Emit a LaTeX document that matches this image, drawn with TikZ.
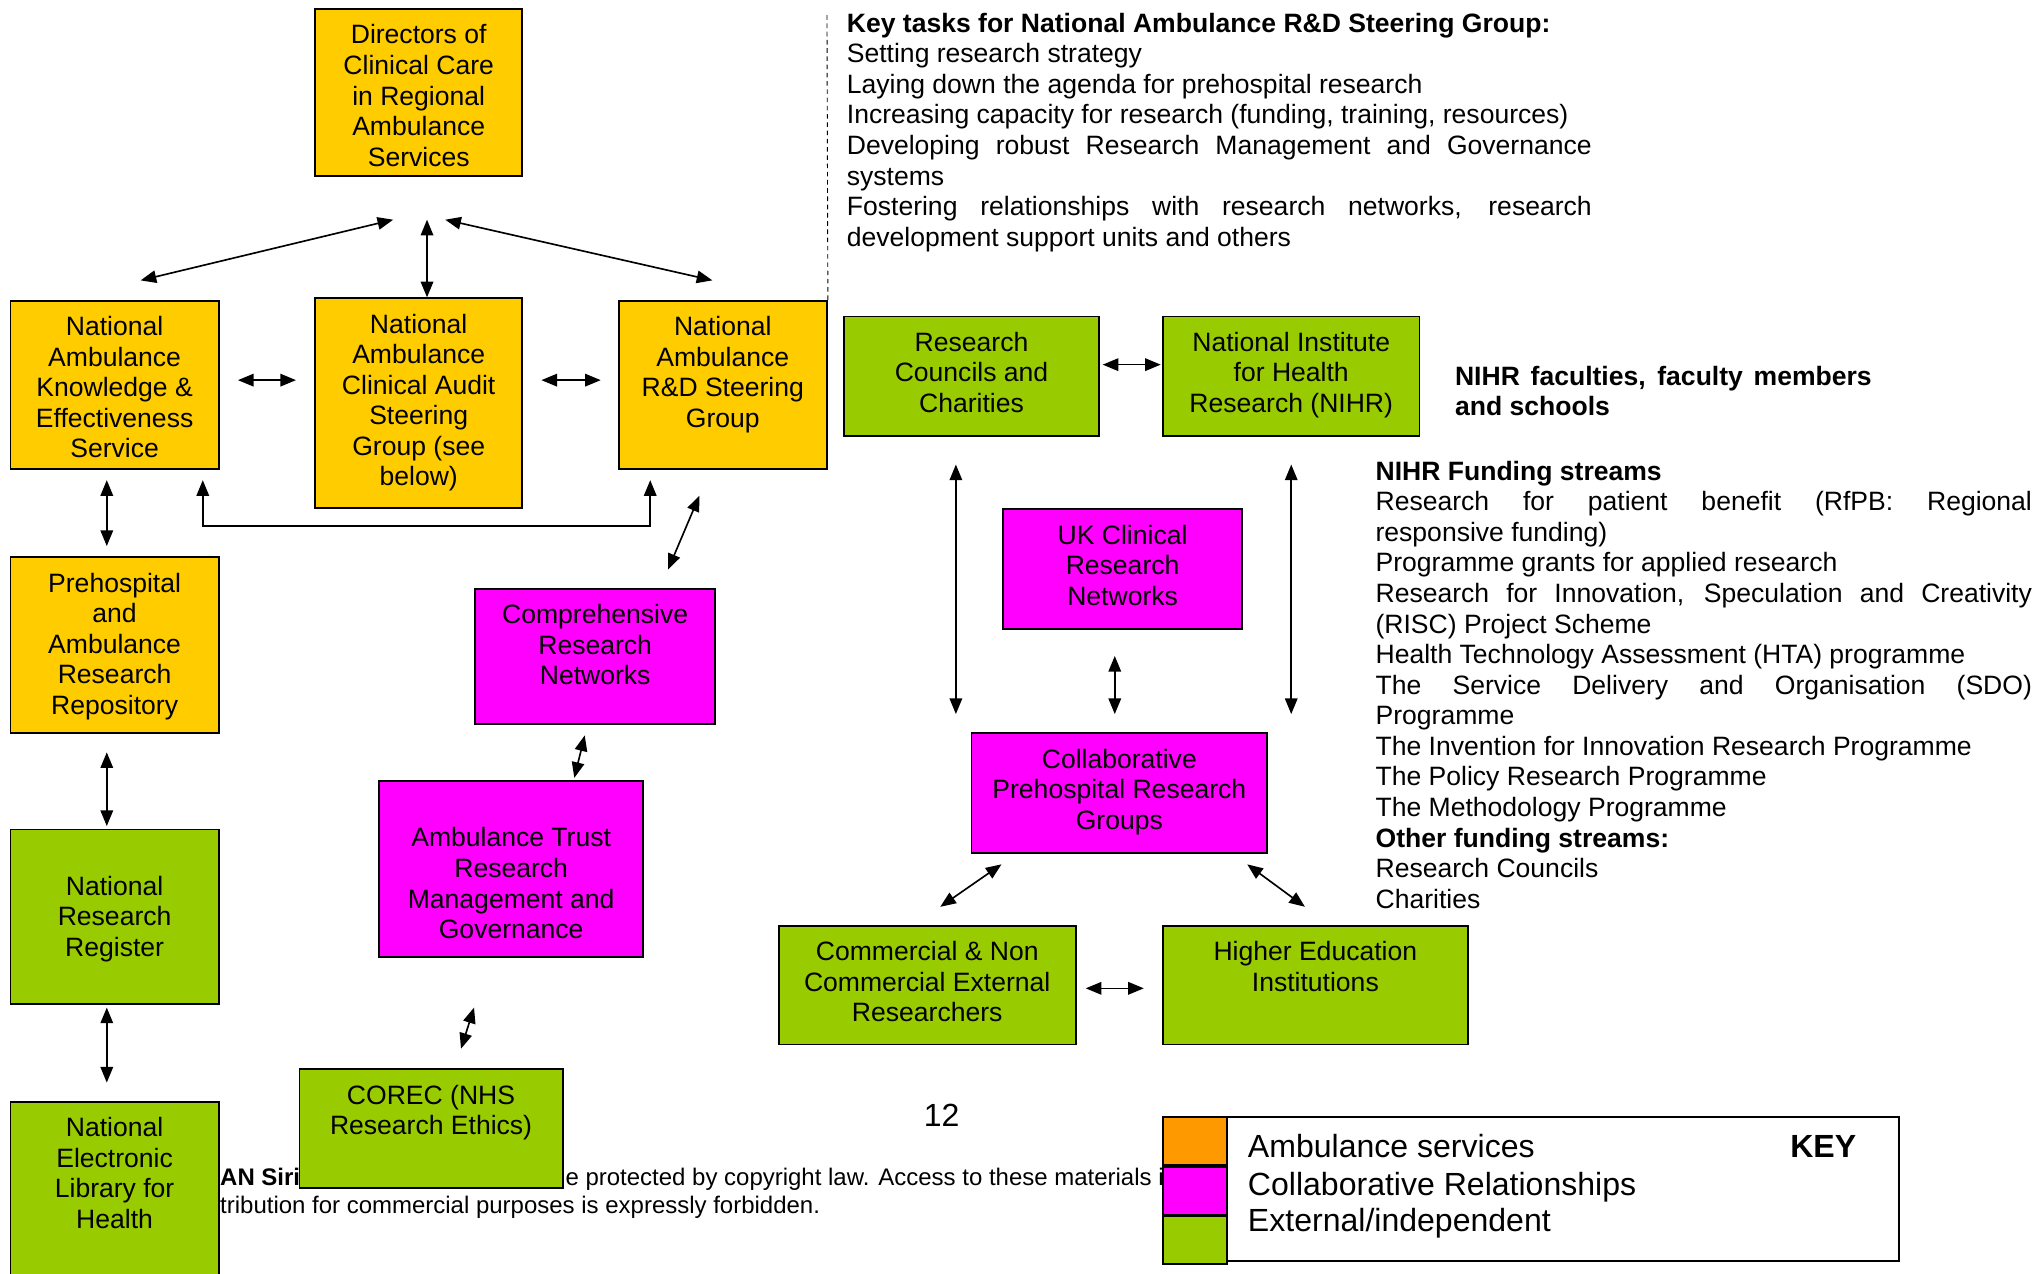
\documentclass[tikz,border=0pt]{standalone}
\usepackage{fontspec}
\setmainfont{Liberation Sans}
\usepackage{xcolor}
\usetikzlibrary{arrows.meta,positioning}
\definecolor{ambufill}{HTML}{FFCC00}
\definecolor{collabfill}{HTML}{FF00FF}
\definecolor{extfill}{HTML}{99CC00}
\definecolor{keyorange}{HTML}{FF9900}
\newcommand{\bodysize}{\fontsize{14.5pt}{16.7pt}\selectfont}
\newcommand{\keysize}{\fontsize{17.5pt}{20.6pt}\selectfont}
\newcommand{\inbox}[4][0.3cm]{\parbox[c][#2][t]{#3}{\centering\vspace*{#1}#4}}
\hyphenpenalty=10000
\exhyphenpenalty=10000
\tolerance=10000

\begin{document}
\begin{tikzpicture}[
      every node/.style={font=\bodysize},
      arr/.style={{Triangle[length=3mm,width=2.4mm]}-{Triangle[length=3mm,width=2.4mm]}, line width=0.9pt},
      orgbox/.style={draw=black, line width=1pt, inner sep=0pt},
      ambu/.style={orgbox, fill=ambufill},
      collab/.style={orgbox, fill=collabfill},
      extern/.style={orgbox, fill=extfill},
      txtblock/.style={inner sep=0pt, anchor=north west, align=justify},
      swatch/.style={draw=black, line width=1pt, inner sep=0pt,
                     minimum width=1.225cm, minimum height=0.9167cm},
      keytxt/.style={font=\keysize, inner sep=0pt, anchor=base west},
      foot/.style={font=\fontsize{13.1pt}{15.6pt}\selectfont, inner sep=0pt, anchor=base west},
      guide/.style={dash pattern=on 2.5pt off 2pt, line width=0.5pt}
  ]

    \path[use as bounding box, fill=white] (0,0) rectangle (39.2,-24.45);

    % ---- Page footer (behind the boxes) ----
    \node[foot] (foota) at (4.22,-22.75) {\textbf{AN Siri}};
    \node[foot] (footb) at (10.85,-22.75) {e protected by copyright law. Access to these materials i};
    \node[foot] (footc) at (4.22,-23.3) {tribution for commercial purposes is expressly forbidden.};
    \node[font=\keysize, anchor=base] (pagenum) at (18.075,-21.62) {12};

    % ---- Ambulance services ----
    \node[ambu] (dir) at (8.0375,-1.775)
          {\inbox{3.2cm}{3.975cm}{Directors of\\Clinical Care\\in Regional\\Ambulance\\Services}};
    \node[ambu] (nakes) at (2.2,-7.3875)
          {\inbox{3.225cm}{4cm}{National\\Ambulance\\Knowledge \&\\Effectiveness\\Service}};
    \node[ambu] (nacasg) at (8.0375,-7.7375)
          {\inbox{4.025cm}{3.975cm}{National\\Ambulance\\Clinical Audit\\Steering\\Group (see\\below)}};
    \node[ambu] (nardsg) at (13.875,-7.3875)
          {\inbox{3.225cm}{4cm}{National\\Ambulance\\R\&D Steering\\Group}};
    \node[ambu] (prep) at (2.2,-12.3875)
          {\inbox{3.375cm}{4cm}{Prehospital\\and\\Ambulance\\Research\\Repository}};

    % ---- Collaborative relationships ----
    \node[collab] (crn) at (11.425,-12.6)
          {\inbox{2.6cm}{4.6cm}{Comprehensive\\Research\\Networks}};
    \node[collab] (atrmg) at (9.8125,-16.6875)
          {\inbox[0.8875cm]{3.375cm}{5.075cm}{Ambulance Trust\\Research\\Management and\\Governance}};
    \node[collab] (ukcrn) at (21.55,-10.925)
          {\inbox{2.3cm}{4.6cm}{UK Clinical\\Research\\Networks}};
    \node[collab] (cprg) at (21.4875,-15.225)
          {\inbox{2.3cm}{5.675cm}{Collaborative\\Prehospital Research\\Groups}};

    % ---- External / independent ----
    \node[extern] (nrr) at (2.2,-17.6)
          {\inbox[0.8875cm]{3.35cm}{4cm}{National\\Research\\Register}};
    \node[extern] (nelh) at (2.2,-22.875)
          {\inbox{3.45cm}{4cm}{National\\Electronic\\Library for\\Health}};
    \node[extern] (corec) at (8.275,-21.6625)
          {\inbox{2.275cm}{5.05cm}{COREC (NHS\\Research Ethics)}};
    \node[extern] (rcc) at (18.65,-7.225)
          {\inbox{2.3cm}{4.9cm}{Research\\Councils and\\Charities}};
    \node[extern] (nihr) at (24.7875,-7.225)
          {\inbox{2.3cm}{4.925cm}{National Institute\\for Health\\Research (NIHR)}};
    \node[extern] (comm) at (17.8,-18.9125)
          {\inbox{2.275cm}{5.7cm}{Commercial \& Non\\Commercial External\\Researchers}};
    \node[extern] (hei) at (25.25,-18.9125)
          {\inbox{2.275cm}{5.85cm}{Higher Education\\Institutions}};

    % ---- Arrows to the directors ----
    \draw[arr] ([xshift=0.5cm,yshift=0.375cm]nakes.north) -- ([xshift=-0.49cm,yshift=-0.825cm]dir.south);
    \draw[arr] ([xshift=0.16cm]nacasg.north) -- ([xshift=0.16cm,yshift=-0.825cm]dir.south);
    \draw[arr] ([xshift=-0.2cm,yshift=0.375cm]nardsg.north) -- ([xshift=0.51cm,yshift=-0.825cm]dir.south);

    % ---- Links between the national groups ----
    \draw[arr, shorten <=0.35cm, shorten >=0.35cm]
          ([yshift=0.09cm]nakes.east) -- ([yshift=0.09cm]nakes.east -| nacasg.west);
    \draw[arr, shorten <=0.35cm, shorten >=0.325cm]
          ([yshift=0.09cm]nardsg.west -| nacasg.east) -- ([yshift=0.09cm]nardsg.west);
    \draw[arr] ([xshift=-0.325cm,yshift=-0.2cm]nakes.south east) -- ++(0,-0.875)
          -| ([xshift=0.625cm,yshift=-0.2cm]nardsg.south west);

    % ---- Left column ----
    \draw[arr, shorten <=0.2cm, shorten >=0.2cm] ([xshift=-0.15cm]nakes.south) -- ([xshift=-0.15cm]prep.north);
    \draw[arr, shorten <=0.35cm, shorten >=0.05cm] ([xshift=-0.15cm]prep.south) -- ([xshift=-0.15cm]nrr.north);
    \draw[arr, shorten <=0.05cm, shorten >=0.35cm] ([xshift=-0.15cm]nrr.south) -- ([xshift=-0.15cm]nelh.north);

    % ---- Middle chain ----
    \draw[arr] ([xshift=-0.45cm,yshift=-0.5cm]nardsg.south) -- ([xshift=1.4cm,yshift=0.35cm]crn.north);
    \draw[arr] ([xshift=-0.2cm,yshift=-0.2cm]crn.south) -- ([xshift=1.2125cm,yshift=0.05cm]atrmg.north);
    \draw[arr] ([xshift=-0.7125cm,yshift=-0.95cm]atrmg.south) -- ([xshift=0.575cm,yshift=0.375cm]corec.north);

    % ---- Right network ----
    \draw[arr, shorten <=0.05cm, shorten >=0.025cm] ([yshift=0.225cm]rcc.east) -- ([yshift=0.225cm]nihr.west);
    \draw[arr, shorten <=0.525cm, shorten >=0.35cm] ([xshift=-0.3cm]rcc.south) -- ([xshift=-0.3cm]rcc.south |- cprg.north);
    \draw[arr, shorten <=0.525cm, shorten >=0.35cm] (nihr.south) -- (nihr.south |- cprg.north);
    \draw[arr, shorten <=0.5cm, shorten >=0.35cm] ([xshift=-0.15cm]ukcrn.south) -- ([xshift=-0.15cm]ukcrn.south |- cprg.north);
    \draw[arr] ([xshift=-2.2625cm,yshift=-0.2cm]cprg.south) -- ([xshift=0.25cm,yshift=0.35cm]comm.north);
    \draw[arr] ([xshift=-0.4cm,yshift=-0.2cm]cprg.south east) -- ([xshift=-0.2cm,yshift=0.35cm]hei.north);
    \draw[arr, shorten <=0.175cm, shorten >=0.35cm] ([yshift=-0.06cm]comm.east) -- ([yshift=-0.06cm]hei.west);

    % ---- Dashed divider ----
    \coordinate (guidetop) at (15.875,-0.25);
    \draw[guide] (nardsg.north east) -- (guidetop);

    % ---- Text blocks ----
    \node[txtblock, text width=14.3cm] (tasks) at (16.25,-0.2425) {%
      \textbf{Key tasks for National Ambulance R\&D Steering Group:}\par
      Setting research strategy\par
      Laying down the agenda for prehospital research\par
      Increasing capacity for research (funding, training, resources)\par
      Developing robust Research Management and Governance systems\par
      Fostering relationships with research networks, research development support units and others};

    \node[txtblock, text width=8cm, font=\bodysize\bfseries] (faculties) at (27.925,-7.0175)
          {NIHR faculties, faculty members and schools};

    \node[txtblock, text width=12.6cm] (streams) at (26.4,-8.8425) {%
      \textbf{NIHR Funding streams}\par
      Research for patient benefit (RfPB: Regional\linebreak responsive funding)\par
      Programme grants for applied research\par
      Research for Innovation, Speculation and Creativity (RISC) Project Scheme\par
      Health Technology Assessment (HTA) programme\par
      The Service Delivery and Organisation (SDO) Programme\par
      The Invention for Innovation Research Programme\par
      The Policy Research Programme\par
      The Methodology Programme\par
      \textbf{Other funding streams:}\par
      Research Councils\par
      Charities};

    % ---- Key ----
    \node[draw=black, line width=1pt, fill=white, inner sep=0pt,
          minimum width=14.125cm, minimum height=2.75cm] (keybox) at (29.3875,-22.825) {};
    \node[swatch, fill=keyorange, anchor=north west] (swamb) at (keybox.north west) {};
    \node[swatch, fill=collabfill, below=0pt of swamb] (swcol) {};
    \node[swatch, fill=extfill, below=0pt of swcol] (swext) {};
    \node[keytxt] (keyamb) at (23.95,-22.22) {Ambulance services};
    \node[keytxt] (keycol) at (23.95,-22.945) {Collaborative Relationships};
    \node[keytxt] (keyext) at (23.95,-23.645) {External/independent};
    \node[keytxt, anchor=base, font=\keysize\bfseries] (keytitle) at (35.0,-22.22) {KEY};

\end{tikzpicture}
\end{document}
